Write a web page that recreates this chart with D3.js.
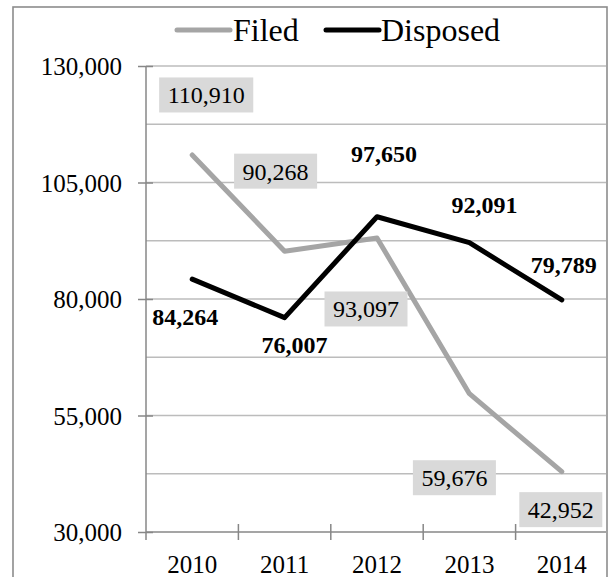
<!DOCTYPE html>
<html>
<head>
<meta charset="utf-8">
<script src="https://cdn.jsdelivr.net/npm/d3@7"></script>
<style>
  html, body { margin: 0; padding: 0; background: #fff; }
  svg { display: block; }
</style>
</head>
<body>
<svg id="chart" width="609" height="577"></svg>
<script>
// ---- data ----
const years = ["2010", "2011", "2012", "2013", "2014"];
const filed = [110910, 90268, 93097, 59676, 42952];
const disposed = [84264, 76007, 97650, 92091, 79789];
const yTickLabels = [30000, 55000, 80000, 105000, 130000];
const yGridValues = [42500, 55000, 67500, 80000, 92500, 105000, 117500, 130000];
const seriesNames = ["Filed", "Disposed"];

// ---- layout (pixel offsets of the hand-placed data labels) ----
const filedLabelOffsets = [[14, -60], [-9, -80], [-11, 71], [-15, 84], [-1, 38]];
const disposedLabelOffsets = [[-7, 46], [10, 35], [7, -55], [15, -30], [2, -27]];

(function () {
const svg = d3.select("#chart");
const pLeft = 146, pRight = 608, pTop = 66, pBottom = 532;

const x = d3.scaleBand().domain(years).range([pLeft, pRight]).padding(0);
const y = d3.scaleLinear().domain([30000, 130000]).range([pBottom, pTop]);
const fmt = d3.format(",");

const colFiled = "#a5a5a5", colDisp = "#000000";
const gridCol = "#bcbcbc", axisCol = "#878787";
const serif = "Liberation Serif";

// outer border
svg.append("rect").attr("x", 13).attr("y", 7).attr("width", 594).attr("height", 620)
  .attr("fill", "none").attr("stroke", "#8c8c8c").attr("stroke-width", 1.6);

// gridlines
svg.append("g").selectAll("line").data(yGridValues).join("line")
  .attr("x1", pLeft).attr("x2", 606)
  .attr("y1", d => y(d)).attr("y2", d => y(d))
  .attr("stroke", gridCol).attr("stroke-width", 1.5);

// y axis
const yAxis = d3.axisLeft(y).tickValues(yTickLabels).tickSize(8).tickPadding(16).tickFormat(fmt);
const gy = svg.append("g").attr("transform", `translate(${pLeft},0)`).call(yAxis)
  .attr("font-family", serif).attr("font-size", 25);
gy.select(".domain").remove();
gy.selectAll(".tick line").attr("stroke", axisCol).attr("stroke-width", 1.5).attr("x2", -8).attr("x1", 7);
gy.selectAll(".tick text").attr("dy", "0.34em").attr("fill", "#000");
svg.append("line").attr("x1", pLeft).attr("x2", pLeft).attr("y1", pTop).attr("y2", pBottom + 8)
  .attr("stroke", axisCol).attr("stroke-width", 1.5);

// x axis
const xAxis = d3.axisBottom(x).tickSize(0).tickPadding(0);
const gx = svg.append("g").attr("transform", `translate(0,${pBottom})`).call(xAxis)
  .attr("font-family", serif).attr("font-size", 25);
gx.select(".domain").remove();
gx.selectAll(".tick text").attr("y", 41).attr("dy", 0).attr("fill", "#000");
svg.append("line").attr("x1", pLeft).attr("x2", 606).attr("y1", pBottom).attr("y2", pBottom)
  .attr("stroke", axisCol).attr("stroke-width", 1.5);
const boundaries = years.map(d => x(d)).concat([x(years[years.length - 1]) + x.bandwidth()]);
svg.append("g").selectAll("line").data(boundaries.slice(1, 5)).join("line")
  .attr("x1", d => d).attr("x2", d => d).attr("y1", pBottom - 8).attr("y2", pBottom + 8)
  .attr("stroke", axisCol).attr("stroke-width", 1.5);

// lines
const line = d3.line().x((d, i) => x(years[i]) + x.bandwidth() / 2).y(d => y(d));
svg.append("path").datum(filed).attr("d", line).attr("fill", "none")
  .attr("stroke", colFiled).attr("stroke-width", 5).attr("stroke-linejoin", "round").attr("stroke-linecap", "round");
svg.append("path").datum(disposed).attr("d", line).attr("fill", "none")
  .attr("stroke", colDisp).attr("stroke-width", 5).attr("stroke-linejoin", "round").attr("stroke-linecap", "round");

// filed labels (boxed)
const fl = svg.append("g").attr("font-family", serif).attr("font-size", 24)
  .selectAll("g").data(filed).join("g")
  .attr("transform", (d, i) => `translate(${x(years[i]) + x.bandwidth() / 2 + filedLabelOffsets[i][0]},${y(d) + filedLabelOffsets[i][1]})`);
fl.append("rect").attr("fill", "#d9d9d9");
fl.append("text").attr("text-anchor", "middle").attr("y", 8.5).attr("fill", "#000").text(d => fmt(d));
fl.each(function () {
  const g = d3.select(this);
  const bb = g.select("text").node().getBBox();
  g.select("rect").attr("x", -bb.width / 2 - 8.5).attr("y", -17.5).attr("width", bb.width + 17).attr("height", 35);
});

// disposed labels (bold)
svg.append("g").attr("font-family", serif).attr("font-size", 24).attr("font-weight", "bold")
  .selectAll("text").data(disposed).join("text")
  .attr("x", (d, i) => x(years[i]) + x.bandwidth() / 2 + disposedLabelOffsets[i][0])
  .attr("y", (d, i) => y(d) + disposedLabelOffsets[i][1])
  .attr("text-anchor", "middle").attr("fill", "#000")
  .text(d => fmt(d));

// legend
const legendItems = [
  { name: seriesNames[0], color: colFiled, x1: 177, x2: 230, tx: 233 },
  { name: seriesNames[1], color: colDisp, x1: 326, x2: 379, tx: 381 }
];
const lg = svg.append("g").attr("font-family", serif).attr("font-size", 32);
legendItems.forEach(it => {
  lg.append("line").attr("x1", it.x1).attr("x2", it.x2).attr("y1", 30).attr("y2", 30)
    .attr("stroke", it.color).attr("stroke-width", 5).attr("stroke-linecap", "round");
  lg.append("text").attr("x", it.tx).attr("y", 41).attr("fill", "#000").text(it.name);
});
})();
</script>
</body>
</html>
